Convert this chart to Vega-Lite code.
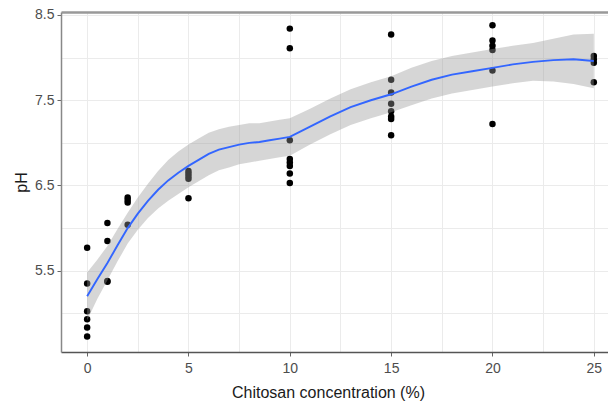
{
  "$schema": "https://vega.github.io/schema/vega-lite/v6.json",
  "width": 547,
  "height": 340,
  "autosize": {"type": "none"},
  "padding": {"left": 61, "top": 12, "right": 0, "bottom": 50},
  "background": "white",
  "config": {
    "view": {"stroke": null},
    "font": "Liberation Sans",
    "axis": {
      "labelFont": "Liberation Sans",
      "titleFont": "Liberation Sans",
      "labelFontSize": 14,
      "labelColor": "#4d4d4d",
      "titleFontSize": 16,
      "titleFontWeight": "normal",
      "titleColor": "#1a1a1a",
      "gridColor": "#ebebeb",
      "gridWidth": 1,
      "tickColor": "#666666",
      "tickSize": 4,
      "domainColor": "#777777",
      "domainWidth": 1.5
    }
  },
  "datasets": {
    "pts": [
      {"conc": 0, "pH": 5.77}, {"conc": 0, "pH": 5.35}, {"conc": 0, "pH": 5.025}, {"conc": 0, "pH": 4.93}, {"conc": 0, "pH": 4.835}, {"conc": 0, "pH": 4.73},
      {"conc": 1, "pH": 6.06}, {"conc": 1, "pH": 5.85}, {"conc": 1, "pH": 5.38}, {"conc": 1, "pH": 5.37},
      {"conc": 2, "pH": 6.36}, {"conc": 2, "pH": 6.33}, {"conc": 2, "pH": 6.3}, {"conc": 2, "pH": 6.04},
      {"conc": 5, "pH": 6.67}, {"conc": 5, "pH": 6.64}, {"conc": 5, "pH": 6.61}, {"conc": 5, "pH": 6.58}, {"conc": 5, "pH": 6.35},
      {"conc": 10, "pH": 8.34}, {"conc": 10, "pH": 8.11}, {"conc": 10, "pH": 7.03}, {"conc": 10, "pH": 6.81}, {"conc": 10, "pH": 6.77}, {"conc": 10, "pH": 6.73}, {"conc": 10, "pH": 6.64}, {"conc": 10, "pH": 6.53},
      {"conc": 15, "pH": 8.27}, {"conc": 15, "pH": 7.74}, {"conc": 15, "pH": 7.59}, {"conc": 15, "pH": 7.46}, {"conc": 15, "pH": 7.37}, {"conc": 15, "pH": 7.31}, {"conc": 15, "pH": 7.28}, {"conc": 15, "pH": 7.09},
      {"conc": 20, "pH": 8.38}, {"conc": 20, "pH": 8.2}, {"conc": 20, "pH": 8.14}, {"conc": 20, "pH": 8.09}, {"conc": 20, "pH": 7.85}, {"conc": 20, "pH": 7.22},
      {"conc": 25, "pH": 8.02}, {"conc": 25, "pH": 7.98}, {"conc": 25, "pH": 7.94}, {"conc": 25, "pH": 7.71}
    ],
    "fit": [
      {"conc": 0, "fit": 5.2, "lo": 4.92, "hi": 5.48},
      {"conc": 0.5, "fit": 5.4, "lo": 5.17, "hi": 5.63},
      {"conc": 1, "fit": 5.59, "lo": 5.39, "hi": 5.79},
      {"conc": 1.5, "fit": 5.8, "lo": 5.61, "hi": 5.99},
      {"conc": 2, "fit": 6.0, "lo": 5.82, "hi": 6.18},
      {"conc": 2.5, "fit": 6.17, "lo": 5.98, "hi": 6.36},
      {"conc": 3, "fit": 6.32, "lo": 6.12, "hi": 6.52},
      {"conc": 3.5, "fit": 6.45, "lo": 6.23, "hi": 6.67},
      {"conc": 4, "fit": 6.56, "lo": 6.32, "hi": 6.8},
      {"conc": 4.5, "fit": 6.65, "lo": 6.4, "hi": 6.9},
      {"conc": 5, "fit": 6.73, "lo": 6.48, "hi": 6.98},
      {"conc": 5.5, "fit": 6.8, "lo": 6.55, "hi": 7.05},
      {"conc": 6, "fit": 6.87, "lo": 6.62, "hi": 7.12},
      {"conc": 6.5, "fit": 6.92, "lo": 6.68, "hi": 7.16},
      {"conc": 7, "fit": 6.95, "lo": 6.71, "hi": 7.19},
      {"conc": 7.5, "fit": 6.98, "lo": 6.75, "hi": 7.21},
      {"conc": 8, "fit": 7.0, "lo": 6.77, "hi": 7.23},
      {"conc": 8.5, "fit": 7.01, "lo": 6.79, "hi": 7.23},
      {"conc": 9, "fit": 7.03, "lo": 6.81, "hi": 7.25},
      {"conc": 9.5, "fit": 7.05, "lo": 6.83, "hi": 7.27},
      {"conc": 10, "fit": 7.07, "lo": 6.85, "hi": 7.29},
      {"conc": 11, "fit": 7.19, "lo": 6.98, "hi": 7.4},
      {"conc": 12, "fit": 7.31, "lo": 7.1, "hi": 7.52},
      {"conc": 13, "fit": 7.42, "lo": 7.21, "hi": 7.63},
      {"conc": 14, "fit": 7.5, "lo": 7.29, "hi": 7.71},
      {"conc": 15, "fit": 7.57, "lo": 7.36, "hi": 7.78},
      {"conc": 16, "fit": 7.66, "lo": 7.44, "hi": 7.88},
      {"conc": 17, "fit": 7.74, "lo": 7.52, "hi": 7.96},
      {"conc": 18, "fit": 7.8, "lo": 7.58, "hi": 8.02},
      {"conc": 19, "fit": 7.84, "lo": 7.62, "hi": 8.06},
      {"conc": 20, "fit": 7.88, "lo": 7.66, "hi": 8.1},
      {"conc": 21, "fit": 7.92, "lo": 7.7, "hi": 8.14},
      {"conc": 22, "fit": 7.95, "lo": 7.73, "hi": 8.17},
      {"conc": 23, "fit": 7.97, "lo": 7.72, "hi": 8.22},
      {"conc": 24, "fit": 7.98, "lo": 7.69, "hi": 8.27},
      {"conc": 25, "fit": 7.96, "lo": 7.64, "hi": 8.28}
    ]
  },
  "resolve": {"axis": {"x": "independent"}},
  "layer": [
    {
      "data": {"name": "pts"},
      "mark": {"type": "circle", "size": 42, "color": "black", "opacity": 1},
      "encoding": {
        "x": {
          "field": "conc", "type": "quantitative",
          "scale": {"domain": [-1.29, 25.7], "nice": false, "zero": false},
          "axis": {
            "orient": "bottom",
            "title": "Chitosan concentration (%)",
            "values": [0, 2.5, 5, 7.5, 10, 12.5, 15, 17.5, 20, 22.5, 25],
            "labelExpr": "datum.value % 5 == 0 ? datum.label : ''",
            "tickOpacity": {"condition": {"test": "datum.value % 5 != 0", "value": 0}, "value": 1},
            "labelPadding": 5,
            "titleX": 267,
            "titleY": 45,
            "titleBaseline": "alphabetic",
            "domainColor": "#555555"
          }
        },
        "y": {
          "field": "pH", "type": "quantitative", "title": "pH",
          "scale": {"domain": [4.547, 8.535], "nice": false, "zero": false},
          "axis": {
            "values": [5, 5.5, 6, 6.5, 7, 7.5, 8, 8.5],
            "labelExpr": "round(datum.value * 10) % 10 == 5 ? datum.label : ''",
            "tickOpacity": {"condition": {"test": "round(datum.value * 10) % 10 != 5", "value": 0}, "value": 1},
            "labelPadding": 3,
            "titleX": -35,
            "titleY": 170,
            "titleBaseline": "alphabetic",
            "domainColor": "#888888"
          }
        }
      }
    },
    {
      "data": {"name": "fit"},
      "mark": {"type": "area", "color": "#999999", "opacity": 0.4},
      "encoding": {
        "x": {
          "field": "conc", "type": "quantitative",
          "axis": {"orient": "top", "labels": false, "ticks": false, "grid": false, "title": null, "domain": true, "domainColor": "#999999", "domainWidth": 2.5}
        },
        "y": {"field": "lo", "type": "quantitative", "title": "pH"},
        "y2": {"field": "hi"}
      }
    },
    {
      "data": {"name": "fit"},
      "mark": {"type": "line", "color": "#3366FF", "strokeWidth": 1.9},
      "encoding": {
        "x": {"field": "conc", "type": "quantitative", "axis": null},
        "y": {"field": "fit", "type": "quantitative", "title": "pH"}
      }
    }
  ]
}
